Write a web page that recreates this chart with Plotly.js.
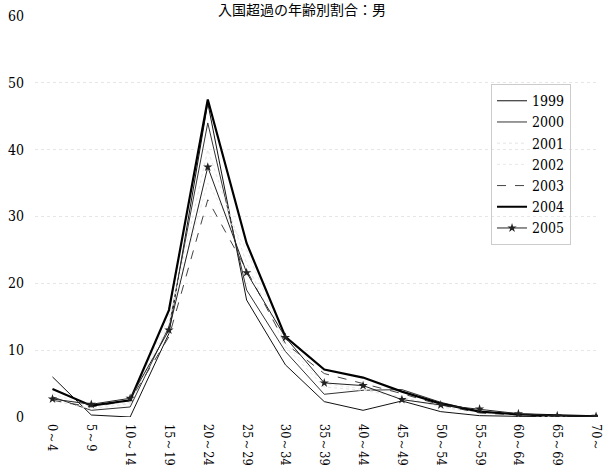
<!DOCTYPE html>
<html>
<head>
<meta charset="utf-8">
<script src="https://cdn.plot.ly/plotly-3.0.1.min.js"></script>
<style>html,body{margin:0;padding:0;background:#fff;}#chart{width:604px;height:475px;}</style>
</head>
<body>
<div id="chart"></div>
<script>
var categories = ["0～4","5～9","10～14","15～19","20～24","25～29","30～34","35～39","40～44","45～49","50～54","55～59","60～64","65～69","70～"];
var years = ["1999","2000","2001","2002","2003","2004","2005"];
var v1999 = [6.0, 0.3, 0.0, 12.5, 47.0, 17.5, 7.8, 2.3, 1.0, 2.4, 0.8, 0.2, 0.1, 0.0, 0.0];
var v2000 = [3.0, 1.0, 1.5, 13.5, 44.0, 19.0, 9.8, 3.4, 4.0, 4.1, 2.2, 0.8, 0.4, 0.2, 0.1];
var v2001 = [2.5, 1.2, 2.0, 14.0, 40.0, 23.0, 10.5, 4.5, 4.0, 3.0, 1.5, 0.6, 0.3, 0.1, 0.1];
var v2002 = [3.5, 1.5, 2.2, 15.0, 35.0, 25.0, 11.0, 5.0, 4.2, 2.8, 1.6, 0.7, 0.3, 0.1, 0.1];
var v2003 = [2.5, 1.5, 2.5, 12.0, 32.5, 22.0, 11.0, 6.5, 5.0, 3.5, 1.8, 0.6, 0.3, 0.1, 0.1];
var v2004 = [4.2, 1.7, 2.5, 16.0, 47.5, 26.0, 12.0, 7.1, 5.9, 3.8, 2.0, 0.8, 0.4, 0.2, 0.1];
var v2005 = [2.7, 1.9, 2.8, 13.0, 37.4, 21.6, 11.9, 5.1, 4.7, 2.6, 1.8, 1.2, 0.5, 0.2, 0.1];
var yTicks = [0, 10, 20, 30, 40, 50, 60];

var values = [v1999, v2000, v2001, v2002, v2003, v2004, v2005];
var styles = [
  {color:"#111", width:1, dash:"solid"},
  {color:"#333", width:1, dash:"solid"},
  {color:"#e4e4e4", width:1, dash:"dot"},
  {color:"#e8e8e8", width:1, dash:"dot"},
  {color:"#444", width:1, dash:"dash"},
  {color:"#000", width:2.2, dash:"solid"},
  {color:"#222", width:1, dash:"solid"}
];
var traces = years.map(function(y, i){
  var t = {x: categories, y: values[i], name: y, type: "scatter", mode: "lines",
           line: styles[i]};
  if (i === 6) { t.mode = "lines+markers"; t.marker = {symbol:"star", size:7, color:"#222"}; }
  return t;
});

var tickFont = {family: "DejaVu Serif Condensed, DejaVu Serif, serif", size: 14, color: "#000"};
var xTickFont = {family: "DejaVu Serif Condensed, DejaVu Serif, serif", size: 12.5, color: "#000"};
var layout = {
  width: 604, height: 475,
  margin: {l: 35, r: 6, t: 16, b: 58},
  paper_bgcolor: "#fff", plot_bgcolor: "#fff",
  title: {text: "入国超過の年齢別割合：男", font: {family: "Noto Sans CJK JP", size: 14, color: "#000"},
          x: 0.5, xanchor: "center", y: 0.978, yanchor: "middle", yref: "container"},
  xaxis: {type: "category", range: [-0.45, 14.05], tickangle: 90, showgrid: false, zeroline: false,
          showline: false, ticks: "", tickfont: xTickFont, ticklabelstandoff: 6},
  yaxis: {range: [0, 60], tickvals: yTicks, showgrid: true, gridcolor: "#e6e6e6", griddash: "dot",
          zeroline: false, showline: false, ticks: "", tickfont: tickFont, ticklabelstandoff: 10},
  showlegend: true,
  legend: {x: 0.81, y: 0.83, xanchor: "left", yanchor: "top", bgcolor: "rgba(255,255,255,0)",
           bordercolor: "#ccc", borderwidth: 1, font: tickFont, tracegroupgap: 0, itemwidth: 30}
};
Plotly.newPlot("chart", traces, layout, {displayModeBar: false, staticPlot: true});
</script>
</body>
</html>
